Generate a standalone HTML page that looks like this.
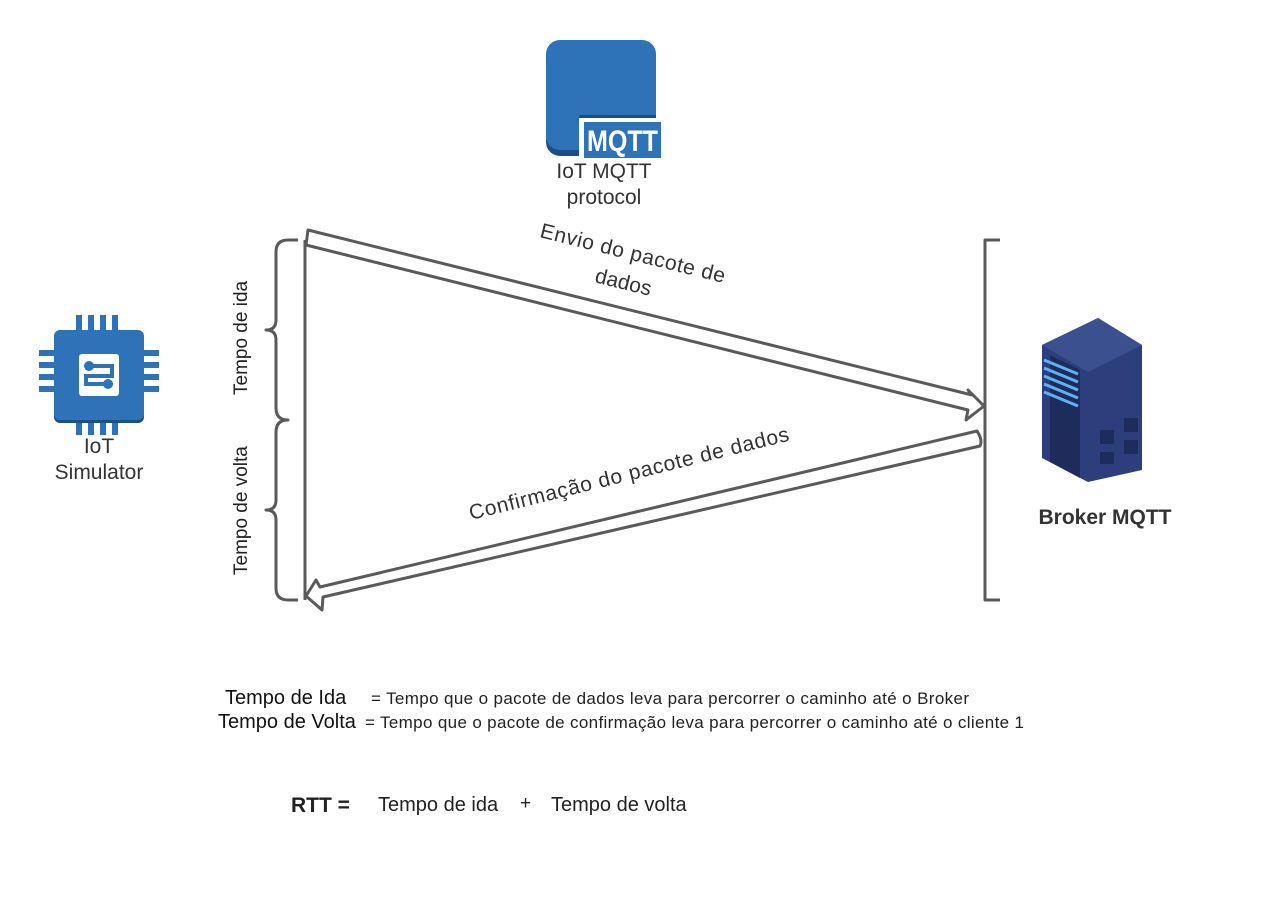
<!DOCTYPE html>
<html><head><meta charset="utf-8"><style>
body{margin:0;background:#fff;width:1265px;height:904px;overflow:hidden;font-family:"Liberation Sans",sans-serif;}
</style></head><body>
<svg width="1265" height="904" xmlns="http://www.w3.org/2000/svg" font-family="Liberation Sans, sans-serif">
<rect width="1265" height="904" fill="#fff"/>
<rect x="546" y="44" width="110" height="112" rx="14" fill="#1c4f84"/>
<rect x="546" y="40" width="110" height="110" rx="14" fill="#2e73b8"/>
<rect x="579" y="115" width="77" height="4" fill="#1c4f84"/>
<rect x="579" y="118" width="82" height="42" fill="#fff"/>
<rect x="584" y="122" width="77" height="36" fill="#2e73b8"/>
<text x="587" y="151" font-size="30" font-weight="bold" fill="#fff" textLength="71" lengthAdjust="spacingAndGlyphs">MQTT</text>
<text x="604" y="178" font-size="21" fill="#333" text-anchor="middle">IoT MQTT</text>
<text x="604" y="204" font-size="21" fill="#333" text-anchor="middle">protocol</text>
<g fill="#2e73b8">
<rect x="76" y="315" width="6" height="120"/><rect x="88" y="315" width="6" height="120"/><rect x="100" y="315" width="6" height="120"/><rect x="112" y="315" width="6" height="120"/>
<rect x="39" y="350" width="120" height="6"/><rect x="39" y="362" width="120" height="6"/><rect x="39" y="374" width="120" height="6"/><rect x="39" y="386" width="120" height="6"/>
<rect x="54" y="333" width="90" height="90" rx="6" fill="#1c4f84"/>
<rect x="54" y="330" width="90" height="90" rx="6"/>
</g>
<rect x="79" y="354" width="40" height="42" rx="3" fill="#fff"/>
<path d="M89 366 H112 V376 H86 V384 H108" stroke="#2e73b8" stroke-width="4" fill="none"/>
<circle cx="89" cy="366" r="5" fill="#2e73b8"/><circle cx="108" cy="384" r="5" fill="#2e73b8"/>
<text x="99" y="453" font-size="21" fill="#333" text-anchor="middle">IoT</text>
<text x="99" y="479" font-size="21" fill="#333" text-anchor="middle">Simulator</text>
<polygon points="1042,345 1098,318 1142,345 1142,470 1088,482 1042,458" fill="#2c3f7c"/>
<polygon points="1042,345 1098,318 1142,345 1088,372" fill="#3b508f"/>
<polygon points="1050,355 1080,370 1080,478 1050,462" fill="#1e2c5c"/>
<g stroke="#5fb1f2" stroke-width="3">
<line x1="1044" y1="360" x2="1078" y2="374"/><line x1="1044" y1="368" x2="1078" y2="382"/><line x1="1044" y1="376" x2="1078" y2="390"/><line x1="1044" y1="384" x2="1078" y2="398"/><line x1="1044" y1="392" x2="1078" y2="406"/>
</g>
<g fill="#1e2c5c"><rect x="1100" y="430" width="14" height="14"/><rect x="1124" y="418" width="14" height="14"/><rect x="1100" y="452" width="14" height="12"/><rect x="1124" y="440" width="14" height="14"/></g>
<text x="1105" y="524" font-size="21" font-weight="bold" fill="#333" text-anchor="middle">Broker MQTT</text>
<g stroke="#5a5a5a" stroke-width="3" fill="none" stroke-linejoin="round">
<line x1="305" y1="240" x2="305" y2="600"/>
<path d="M298 240 H288 Q276 240 276 252 V320 Q276 330 266 330 Q276 330 276 340 V408 Q276 420 288 420 Q276 420 276 432 V500 Q276 510 266 510 Q276 510 276 520 V588 Q276 600 288 600 H298"/>
<path d="M1000 240 H985 V600 H1000"/>
<path d="M308 230 L972 395 L968 390 L984 406 L966 420 L968 410 L306 245 Z" />
<path d="M977 431 Q983 440 980 446 L323 597 L322 610 L306 596 L316 580 L320 587 Z"/>
</g>
<text font-size="21" fill="#333" transform="translate(539,237) rotate(14)" textLength="190">Envio do pacote de</text>
<text font-size="21" fill="#333" transform="translate(594,282) rotate(14)">dados</text>
<text font-size="21" fill="#333" transform="translate(471,520) rotate(-14)" textLength="329">Confirmação do pacote de dados</text>
<text font-size="19" fill="#222" transform="translate(247,395) rotate(-90)">Tempo de ida</text>
<text font-size="19" fill="#222" transform="translate(247,575) rotate(-90)">Tempo de volta</text>
<text x="225" y="704" font-size="20" fill="#111">Tempo de Ida</text>
<text x="371" y="704" font-size="17" fill="#222" textLength="598">= Tempo que o pacote de dados leva para percorrer o caminho até o Broker</text>
<text x="218" y="728" font-size="20" fill="#111">Tempo de Volta</text>
<text x="365" y="728" font-size="17" fill="#222" textLength="659">= Tempo que o pacote de confirmação leva para percorrer o caminho até o cliente 1</text>
<text x="291" y="812" font-size="21" font-weight="bold" fill="#222">RTT =</text>
<text x="378" y="811" font-size="20" fill="#222">Tempo de ida</text>
<text x="520" y="809" font-size="19" fill="#222">+</text>
<text x="551" y="811" font-size="20" fill="#222">Tempo de volta</text>
</svg>
</body></html>
